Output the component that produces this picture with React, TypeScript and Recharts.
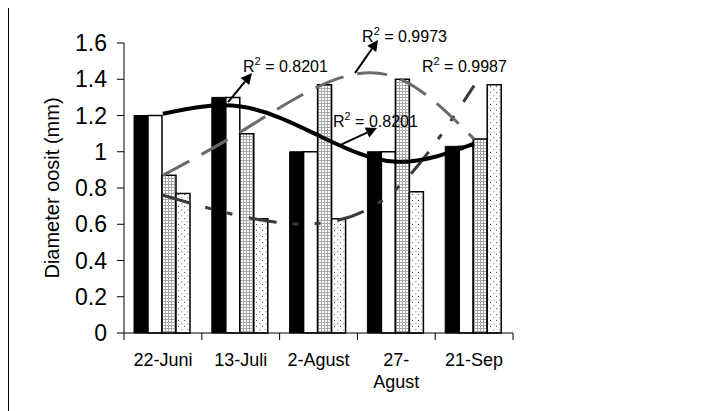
import { ComposedChart, Bar, Line, XAxis, YAxis, ReferenceLine, ReferenceDot } from 'recharts'

const FONT = '"Liberation Sans", Arial, sans-serif'

const categories = ['22-Juni', '13-Juli', '2-Agust', '27-Agust', '21-Sep']
const seriesBlack = [1.2, 1.3, 1.0, 1.0, 1.03]
const seriesWhite = [1.2, 1.3, 1.0, 1.0, 1.03]
const seriesGrid = [0.87, 1.1, 1.37, 1.4, 1.07]
const seriesDots = [0.77, 0.63, 0.63, 0.78, 1.37]

// trend curves at each category centre
const trendBlack = [1.21, 1.25, 1.09, 0.945, 1.045]
const trendGrid = [0.87, 1.11, 1.36, 1.41, 1.07]
const trendDots = [0.76, 0.645, 0.605, 0.795, 1.365]

const yTicks = [0, 0.2, 0.4, 0.6, 0.8, 1, 1.2, 1.4, 1.6]
const boundaryTicks = [0, 1, 2, 3, 4, 5]

// R² labels (x = category position, y = value, text starts at the point)
const r2Labels = [
  { x: 1.53, y: 1.44, value: '0.8201' },
  { x: 3.06, y: 1.606, value: '0.9973' },
  { x: 3.83, y: 1.44, value: '0.9987' },
  { x: 2.686, y: 1.137, value: '0.8201' },
]
const r2Arrows = [
  { x1: 1.337, y1: 1.274, x2: 1.645, y2: 1.434 },
  { x1: 2.969, y1: 1.434, x2: 3.265, y2: 1.617 },
  { x1: 2.776, y1: 1.037, x2: 3.252, y2: 1.131 },
]

const data = categories.map((name, i) => ({
  name,
  pos: i + 0.5,
  black: seriesBlack[i],
  white: seriesWhite[i],
  grid: seriesGrid[i],
  dots: seriesDots[i],
  tBlack: trendBlack[i],
  tGrid: trendGrid[i],
  tDots: trendDots[i],
}))

function CategoryTick({ x, y, payload }: any) {
  const label: string = payload.value
  const cut = label.indexOf('-') + 1
  const lines = label.length > 7 ? [label.slice(0, cut), label.slice(cut)] : [label]
  return (
    <text x={x} y={y} textAnchor="middle" fontSize={18} fill="#000" fontFamily={FONT}>
      {lines.map((l, i) => (
        <tspan key={i} x={x} dy={i === 0 ? 25 : 22}>{l}</tspan>
      ))}
    </text>
  )
}

function Arrow(props: any) {
  const { x1, y1, x2, y2 } = props
  const dx = x2 - x1
  const dy = y2 - y1
  const len = Math.hypot(dx, dy) || 1
  const ux = dx / len
  const uy = dy / len
  const head = 11
  const half = 5.5
  const bx = x2 - ux * head
  const by = y2 - uy * head
  return (
    <g>
      <line x1={x1} y1={y1} x2={bx} y2={by} stroke="#000" strokeWidth={2} />
      <polygon
        points={`${x2},${y2} ${bx - uy * half},${by + ux * half} ${bx + uy * half},${by - ux * half}`}
        fill="#000"
      />
    </g>
  )
}

function r2Shape(value: string) {
  return (p: any) => (
    <text x={p.cx} y={p.cy} fontSize={16} fill="#000" fontFamily={FONT}>
      <tspan>R</tspan>
      <tspan dy={-7} fontSize={11}>2</tspan>
      <tspan dy={7}>{` = ${value}`}</tspan>
    </text>
  )
}

export default function App() {
  return (
    <div
      style={{
        width: 712,
        height: 405,
        marginTop: -2,
        borderTop: '1px solid #000',
        borderLeft: '1px solid #000',
        boxSizing: 'border-box',
        overflow: 'hidden',
        position: 'relative',
        background: '#fff',
      }}
    >
      <style>{'body{overflow:hidden}'}</style>
      <svg width={0} height={0} style={{ position: 'absolute' }}>
        <defs>
          <pattern id="gridFill" width={3} height={3} patternUnits="userSpaceOnUse">
            <rect width={3} height={3} fill="#fff" />
            <rect width={3} height={1} fill="#a8a8a8" />
            <rect width={1} height={3} fill="#a8a8a8" />
          </pattern>
          <pattern id="dotFill" width={6} height={6} patternUnits="userSpaceOnUse">
            <rect width={6} height={6} fill="#fff" />
            <rect x={1} y={1} width={1} height={1} fill="#555" />
            <rect x={4} y={4} width={1.5} height={1.5} fill="#bbb" />
          </pattern>
        </defs>
      </svg>
      <ComposedChart
        width={711}
        height={404}
        data={data}
        margin={{ top: 36, right: 207, left: 0, bottom: 10 }}
        barCategoryGap={10}
        barGap={0}
      >
        <XAxis
          xAxisId="b_cat"
          dataKey="name"
          height={60}
          axisLine={false}
          tickLine={false}
          tickSize={0}
          tickMargin={0}
          interval={0}
          tick={<CategoryTick />}
        />
        <XAxis
          xAxisId="a_edge"
          dataKey="pos"
          type="number"
          domain={[0, 5]}
          ticks={boundaryTicks}
          tickFormatter={() => ''}
          height={8}
          tickSize={7}
          axisLine={{ stroke: '#000' }}
          tickLine={{ stroke: '#000' }}
        />
        <YAxis
          domain={[0, 1.6]}
          ticks={yTicks}
          width={115}
          tickSize={7}
          tickMargin={10}
          axisLine={{ stroke: '#000' }}
          tickLine={{ stroke: '#000' }}
          tick={{ fontSize: 23, fill: '#000', fontFamily: FONT }}
          label={{
            value: 'Diameter oosit (mm)',
            angle: -90,
            position: 'insideLeft',
            offset: 43,
            style: { textAnchor: 'middle', fontSize: 20, fill: '#000', fontFamily: FONT },
          }}
        />
        <Bar xAxisId="b_cat" dataKey="black" fill="#000" stroke="#000" strokeWidth={1} isAnimationActive={false} />
        <Bar xAxisId="b_cat" dataKey="white" fill="#fff" stroke="#000" strokeWidth={1.5} isAnimationActive={false} />
        <Bar xAxisId="b_cat" dataKey="grid" fill="url(#gridFill)" stroke="#000" strokeWidth={1.5} isAnimationActive={false} />
        <Bar xAxisId="b_cat" dataKey="dots" fill="url(#dotFill)" stroke="#000" strokeWidth={1.5} isAnimationActive={false} />
        <Line
          xAxisId="b_cat"
          dataKey="tDots"
          type="natural"
          stroke="#3a3a3a"
          strokeWidth={3}
          strokeDasharray="28 16 6 16 6 17"
          dot={false}
          activeDot={false}
          isAnimationActive={false}
        />
        <Line
          xAxisId="b_cat"
          dataKey="tGrid"
          type="natural"
          stroke="#6a6a6a"
          strokeWidth={3}
          strokeDasharray="30 14"
          dot={false}
          activeDot={false}
          isAnimationActive={false}
        />
        <Line
          xAxisId="b_cat"
          dataKey="tBlack"
          type="natural"
          stroke="#000"
          strokeWidth={4}
          dot={false}
          activeDot={false}
          isAnimationActive={false}
        />
        {r2Arrows.map((a, i) => (
          <ReferenceLine
            key={`arrow-${i}`}
            xAxisId="a_edge"
            ifOverflow="visible"
            segment={[{ x: a.x1, y: a.y1 }, { x: a.x2, y: a.y2 }]}
            shape={Arrow}
          />
        ))}
        {r2Labels.map((l, i) => (
          <ReferenceDot
            key={`r2-${i}`}
            xAxisId="a_edge"
            x={l.x}
            y={l.y}
            r={0}
            ifOverflow="visible"
            shape={r2Shape(l.value)}
          />
        ))}
      </ComposedChart>
    </div>
  )
}
